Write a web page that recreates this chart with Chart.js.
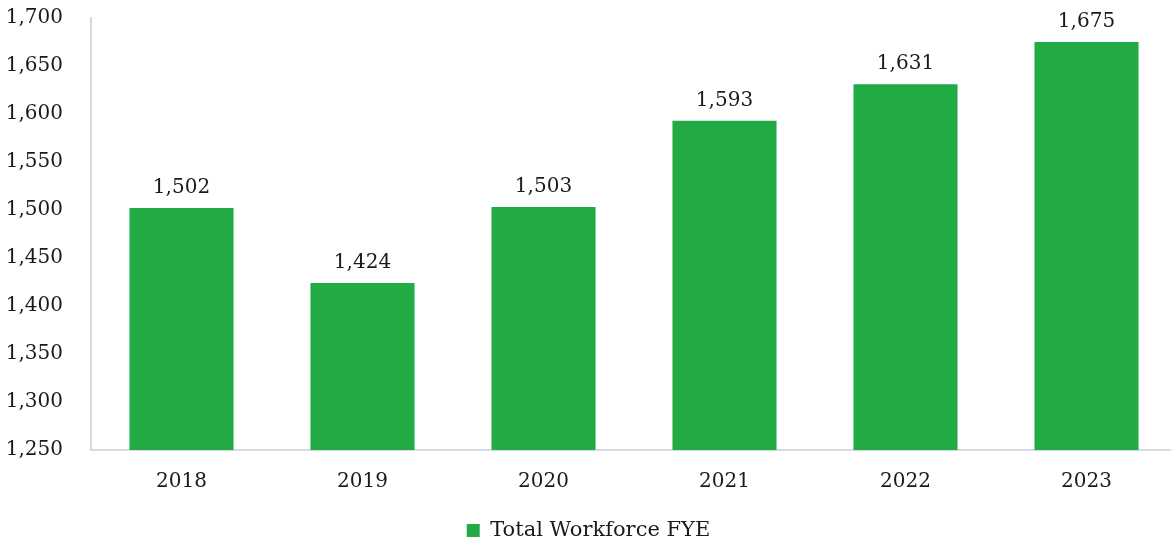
<!DOCTYPE html>
<html>
<head>
<meta charset="utf-8">
<script src="https://cdn.jsdelivr.net/npm/chart.js@4"></script>
<style>
  html, body { margin: 0; padding: 0; background: #ffffff; overflow: hidden; }
  #wrap { width: 1208px; height: 545px; position: relative; }
</style>
</head>
<body>
<div id="wrap"><canvas id="c" width="1208" height="545"></canvas></div>
<script>
const categories = ["2018", "2019", "2020", "2021", "2022", "2023"];
const workforce = [1502, 1424, 1503, 1593, 1631, 1675];
const seriesName = "Total Workforce FYE";
const yMin = 1250, yMax = 1700, yStep = 50;

const FONT = "'DejaVu Serif', 'Liberation Serif', serif";

const valueLabels = {
  id: 'valueLabels',
  afterDatasetsDraw(chart) {
    const ctx = chart.ctx;
    const meta = chart.getDatasetMeta(0);
    ctx.save();
    ctx.font = "20px " + FONT;
    ctx.fillStyle = "#1a1a1a";
    ctx.textAlign = "center";
    ctx.textBaseline = "bottom";
    meta.data.forEach((bar, i) => {
      ctx.fillText(workforce[i].toLocaleString('en-US'), bar.x, bar.y - 10);
    });
    ctx.restore();
  }
};

new Chart(document.getElementById('c'), {
  type: 'bar',
  data: {
    labels: categories,
    datasets: [{
      label: seriesName,
      data: workforce,
      backgroundColor: '#22AA44',
      borderWidth: 0,
      categoryPercentage: 1.0,
      barPercentage: 0.575
    }]
  },
  options: {
    responsive: false,
    animation: false,
    layout: { padding: { top: 18, left: 0, right: 31, bottom: -6 } },
    plugins: {
      legend: {
        position: 'bottom',
        labels: {
          boxWidth: 13, boxHeight: 13,
          font: { family: FONT, size: 21 },
          color: '#1a1a1a',
          padding: 0
        }
      },
      tooltip: { enabled: false }
    },
    scales: {
      x: {
        grid: { display: false },
        border: { color: '#d6dce5', width: 2 },
        ticks: { font: { family: FONT, size: 20 }, color: '#1a1a1a', padding: 12 },
        afterFit(scale) { scale.height = 70; scale.paddingLeft = 0; scale.paddingRight = 0; }
      },
      y: {
        min: yMin, max: yMax,
        grid: { display: false },
        border: { color: '#d9d9d9', width: 2 },
        ticks: {
          stepSize: yStep,
          font: { family: FONT, size: 20 },
          color: '#1a1a1a',
          padding: 20,
          callback: v => v.toLocaleString('en-US')
        },
        afterFit(scale) { scale.width = 91; scale.paddingTop = 0; scale.paddingBottom = 0; }
      }
    }
  },
  plugins: [valueLabels]
});
</script>
</body>
</html>
